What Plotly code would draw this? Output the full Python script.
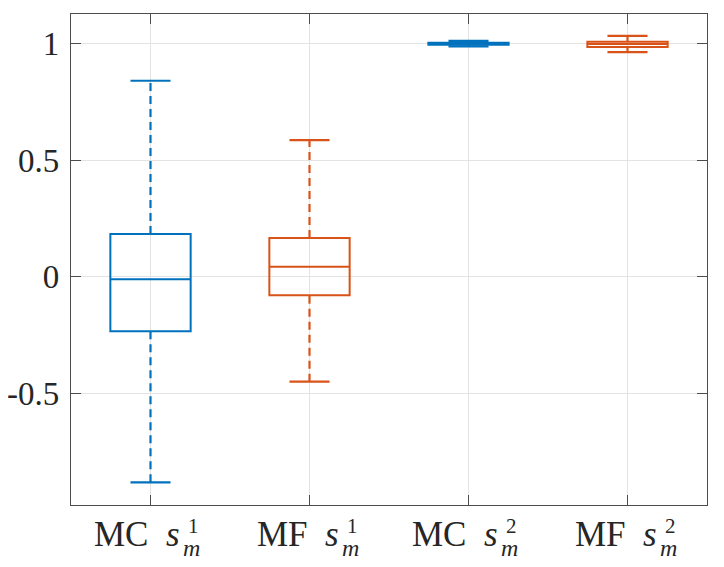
import plotly.graph_objects as go

# box statistics
positions = [1, 2, 3, 4]
prefixes = ["MC", "MF", "MC", "MF"]
sup_labels = ["1", "1", "2", "2"]
lower = [-0.880, -0.449, 0.987, 0.963]
q1 = [-0.233, -0.079, 0.994, 0.985]
median = [-0.010, 0.043, 0.999, 0.998]
q3 = [0.184, 0.167, 1.003, 1.007]
upper = [0.840, 0.586, 1.011, 1.032]
colors = ["#0072BD", "#D95319", "#0072BD", "#D95319"]

y_ticks = [-0.5, 0, 0.5, 1]
y_ticktext = ["-0.5", "0", "0.5", "1"]

FONT = "Times New Roman, Liberation Serif, serif"
box_w = 0.505
cap_w = 0.126

fig = go.Figure()

for i, x in enumerate(positions):
    c = colors[i]
    # box + median only, whiskers drawn separately (dashed like matlab)
    fig.add_trace(
        go.Box(
            x=[x],
            q1=[q1[i]],
            median=[median[i]],
            q3=[q3[i]],
            lowerfence=[q1[i]],
            upperfence=[q3[i]],
            width=box_w,
            whiskerwidth=0,
            line=dict(color=c, width=2),
            fillcolor="rgba(0,0,0,0)",
            showlegend=False,
            hoverinfo="skip",
        )
    )
    # dashed whiskers
    for a, b in [(q3[i], upper[i]), (lower[i], q1[i])]:
        fig.add_trace(
            go.Scatter(
                x=[x, x],
                y=[a, b],
                mode="lines",
                line=dict(color=c, width=2.2, dash="8px,5px"),
                showlegend=False,
                hoverinfo="skip",
            )
        )
    # caps
    for v in [lower[i], upper[i]]:
        fig.add_trace(
            go.Scatter(
                x=[x - cap_w, x + cap_w],
                y=[v, v],
                mode="lines",
                line=dict(color=c, width=2.2),
                showlegend=False,
                hoverinfo="skip",
            )
        )

# x tick labels, with the sub/superscript stacked like TeX does
for i, x in enumerate(positions):
    fig.add_annotation(
        x=x, xref="x", y=0, yref="paper",
        text=prefixes[i] + "\u2002<i>s</i>",
        showarrow=False, xanchor="right", yanchor="top",
        xshift=31, yshift=-8,
        font=dict(family=FONT, size=35, color="#262626"),
    )
    fig.add_annotation(
        x=x, xref="x", y=0, yref="paper",
        text=sup_labels[i],
        showarrow=False, xanchor="left", yanchor="top",
        xshift=35, yshift=-7,
        font=dict(family=FONT, size=21, color="#262626"),
    )
    fig.add_annotation(
        x=x, xref="x", y=0, yref="paper",
        text="<i>m</i>",
        showarrow=False, xanchor="left", yanchor="top",
        xshift=30, yshift=-28,
        font=dict(family=FONT, size=24, color="#262626"),
    )

axis_style = dict(
    showline=True,
    linecolor="#4d4d4d",
    linewidth=1.3,
    mirror="ticks",
    ticks="inside",
    ticklen=10,
    tickwidth=1.3,
    tickcolor="#4d4d4d",
    showgrid=True,
    gridcolor="#e3e3e3",
    gridwidth=1,
    zeroline=False,
    automargin=False,
)

# margins allow for the 8px page margin around the figure
fig.update_layout(
    width=724,
    height=567,
    margin=dict(l=63, r=25, t=6, b=70),
    plot_bgcolor="white",
    paper_bgcolor="white",
    boxmode="overlay",
    font=dict(family=FONT, size=33, color="#262626"),
    xaxis=dict(
        range=[0.5, 4.5],
        tickmode="array",
        tickvals=positions,
        showticklabels=False,
        **axis_style,
    ),
    yaxis=dict(
        range=[-0.977, 1.126],
        tickmode="array",
        tickvals=y_ticks,
        ticktext=y_ticktext,
        ticklabelstandoff=4,
        **axis_style,
    ),
)

fig.write_html("out.html")
